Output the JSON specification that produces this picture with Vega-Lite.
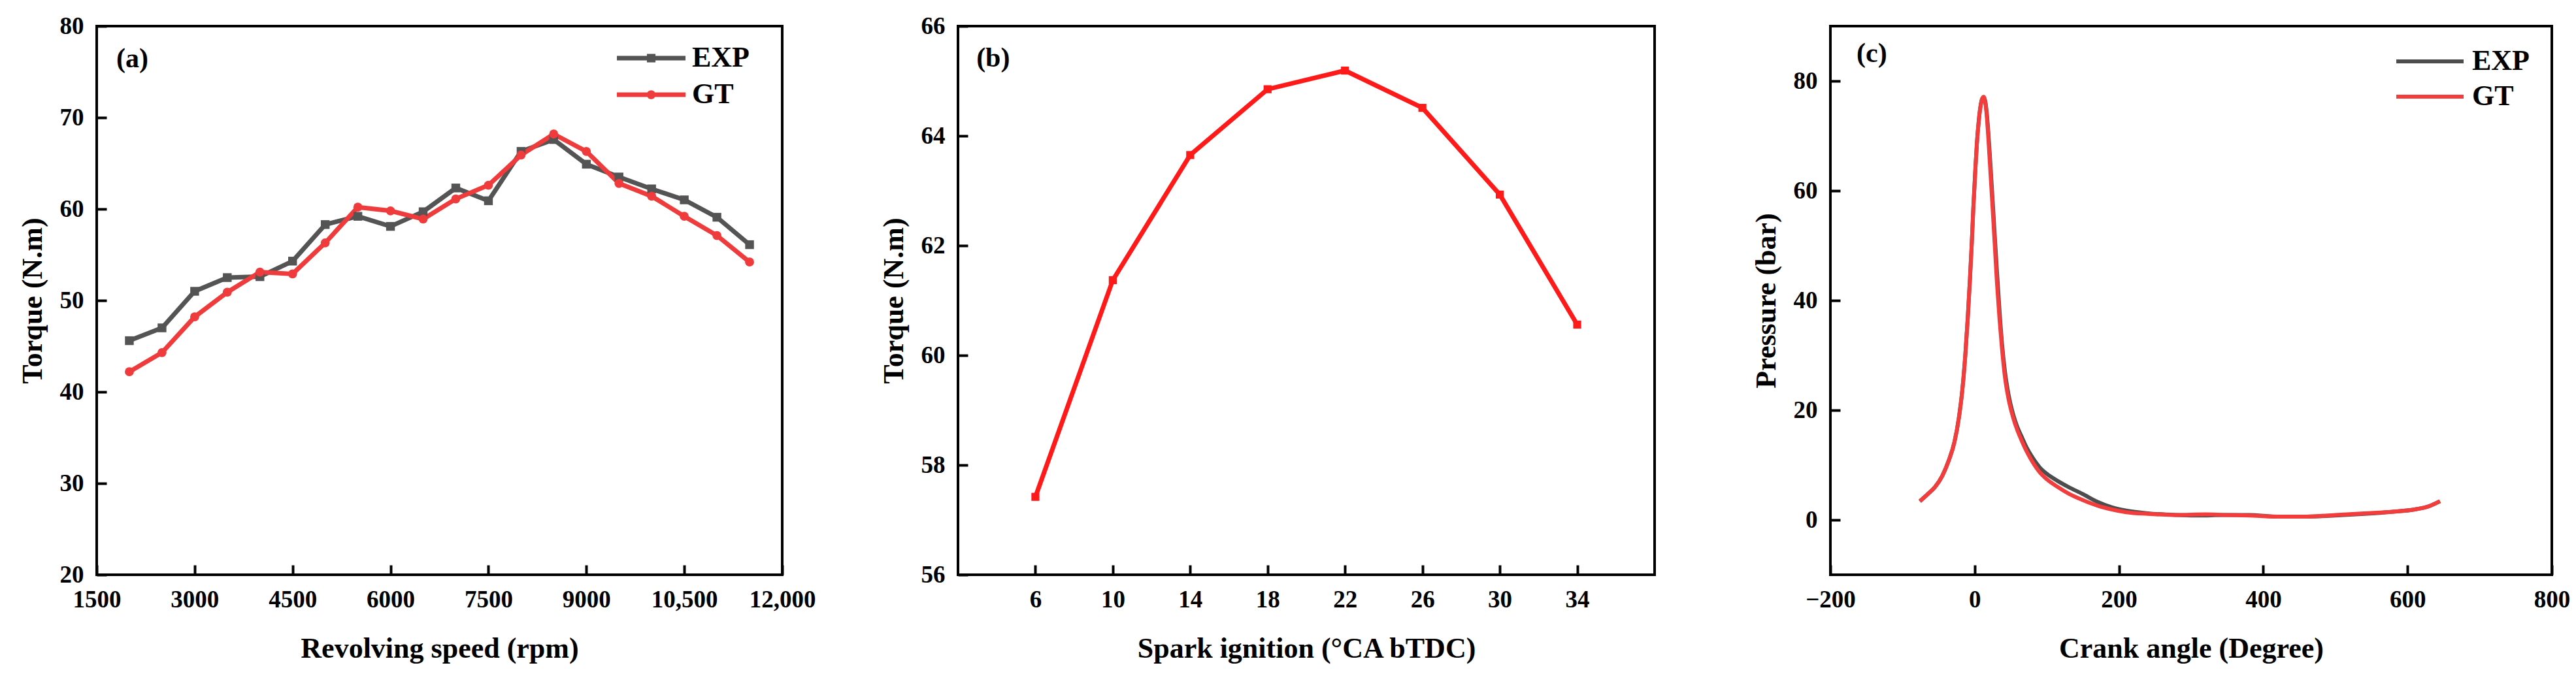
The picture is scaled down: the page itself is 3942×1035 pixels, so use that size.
{
  "$schema": "https://vega.github.io/schema/vega-lite/v6.json",
  "padding": {"left": 26, "top": 19, "right": 10, "bottom": 10},
  "bounds": "flush",
  "spacing": 269,
  "datasets": {
    "torque": [
      {"rpm": 2000, "torque": 45.6, "series": "EXP"},
      {"rpm": 2500, "torque": 47.0, "series": "EXP"},
      {"rpm": 3000, "torque": 51.0, "series": "EXP"},
      {"rpm": 3500, "torque": 52.5, "series": "EXP"},
      {"rpm": 4000, "torque": 52.6, "series": "EXP"},
      {"rpm": 4500, "torque": 54.3, "series": "EXP"},
      {"rpm": 5000, "torque": 58.3, "series": "EXP"},
      {"rpm": 5500, "torque": 59.2, "series": "EXP"},
      {"rpm": 6000, "torque": 58.1, "series": "EXP"},
      {"rpm": 6500, "torque": 59.7, "series": "EXP"},
      {"rpm": 7000, "torque": 62.3, "series": "EXP"},
      {"rpm": 7500, "torque": 60.9, "series": "EXP"},
      {"rpm": 8000, "torque": 66.3, "series": "EXP"},
      {"rpm": 8500, "torque": 67.6, "series": "EXP"},
      {"rpm": 9000, "torque": 64.9, "series": "EXP"},
      {"rpm": 9500, "torque": 63.5, "series": "EXP"},
      {"rpm": 10000, "torque": 62.2, "series": "EXP"},
      {"rpm": 10500, "torque": 61.0, "series": "EXP"},
      {"rpm": 11000, "torque": 59.1, "series": "EXP"},
      {"rpm": 11500, "torque": 56.1, "series": "EXP"},
      {"rpm": 2000, "torque": 42.2, "series": "GT"},
      {"rpm": 2500, "torque": 44.3, "series": "GT"},
      {"rpm": 3000, "torque": 48.2, "series": "GT"},
      {"rpm": 3500, "torque": 50.9, "series": "GT"},
      {"rpm": 4000, "torque": 53.1, "series": "GT"},
      {"rpm": 4500, "torque": 52.9, "series": "GT"},
      {"rpm": 5000, "torque": 56.3, "series": "GT"},
      {"rpm": 5500, "torque": 60.2, "series": "GT"},
      {"rpm": 6000, "torque": 59.8, "series": "GT"},
      {"rpm": 6500, "torque": 58.9, "series": "GT"},
      {"rpm": 7000, "torque": 61.1, "series": "GT"},
      {"rpm": 7500, "torque": 62.6, "series": "GT"},
      {"rpm": 8000, "torque": 65.9, "series": "GT"},
      {"rpm": 8500, "torque": 68.2, "series": "GT"},
      {"rpm": 9000, "torque": 66.3, "series": "GT"},
      {"rpm": 9500, "torque": 62.8, "series": "GT"},
      {"rpm": 10000, "torque": 61.4, "series": "GT"},
      {"rpm": 10500, "torque": 59.2, "series": "GT"},
      {"rpm": 11000, "torque": 57.1, "series": "GT"},
      {"rpm": 11500, "torque": 54.2, "series": "GT"}
    ],
    "spark": [
      {"si": 6, "torque": 57.42},
      {"si": 10, "torque": 61.37},
      {"si": 14, "torque": 63.65},
      {"si": 18, "torque": 64.85},
      {"si": 22, "torque": 65.19},
      {"si": 26, "torque": 64.51},
      {"si": 30, "torque": 62.93},
      {"si": 34, "torque": 60.56}
    ],
    "pressure": [
      {"angle": -76, "p": 3.4, "series": "EXP"},
      {"angle": -65, "p": 4.7, "series": "EXP"},
      {"angle": -55, "p": 6.0, "series": "EXP"},
      {"angle": -45, "p": 8.0, "series": "EXP"},
      {"angle": -36, "p": 10.8, "series": "EXP"},
      {"angle": -28, "p": 14.2, "series": "EXP"},
      {"angle": -22, "p": 18.5, "series": "EXP"},
      {"angle": -17, "p": 23.8, "series": "EXP"},
      {"angle": -13, "p": 30, "series": "EXP"},
      {"angle": -9.5, "p": 37, "series": "EXP"},
      {"angle": -6.5, "p": 44, "series": "EXP"},
      {"angle": -4, "p": 50.5, "series": "EXP"},
      {"angle": -1.8, "p": 57, "series": "EXP"},
      {"angle": 1, "p": 64, "series": "EXP"},
      {"angle": 3, "p": 68.5, "series": "EXP"},
      {"angle": 5.5, "p": 72.5, "series": "EXP"},
      {"angle": 8, "p": 75.3, "series": "EXP"},
      {"angle": 10.5, "p": 76.8, "series": "EXP"},
      {"angle": 12.5, "p": 77.0, "series": "EXP"},
      {"angle": 14.5, "p": 76.4, "series": "EXP"},
      {"angle": 16.5, "p": 74.5, "series": "EXP"},
      {"angle": 19, "p": 70.5, "series": "EXP"},
      {"angle": 22, "p": 64.5, "series": "EXP"},
      {"angle": 25, "p": 58, "series": "EXP"},
      {"angle": 28, "p": 51.5, "series": "EXP"},
      {"angle": 31, "p": 45, "series": "EXP"},
      {"angle": 34.5, "p": 38, "series": "EXP"},
      {"angle": 38, "p": 32, "series": "EXP"},
      {"angle": 42, "p": 27, "series": "EXP"},
      {"angle": 47, "p": 22.8, "series": "EXP"},
      {"angle": 53, "p": 19.4, "series": "EXP"},
      {"angle": 59, "p": 17, "series": "EXP"},
      {"angle": 65, "p": 15.2, "series": "EXP"},
      {"angle": 72, "p": 13.2, "series": "EXP"},
      {"angle": 80, "p": 11.4, "series": "EXP"},
      {"angle": 90, "p": 9.6, "series": "EXP"},
      {"angle": 100, "p": 8.4, "series": "EXP"},
      {"angle": 115, "p": 7.1, "series": "EXP"},
      {"angle": 130, "p": 6.0, "series": "EXP"},
      {"angle": 150, "p": 4.7, "series": "EXP"},
      {"angle": 170, "p": 3.3, "series": "EXP"},
      {"angle": 190, "p": 2.3, "series": "EXP"},
      {"angle": 210, "p": 1.7, "series": "EXP"},
      {"angle": 240, "p": 1.2, "series": "EXP"},
      {"angle": 280, "p": 0.9, "series": "EXP"},
      {"angle": 320, "p": 0.8, "series": "EXP"},
      {"angle": 345, "p": 0.9, "series": "EXP"},
      {"angle": 380, "p": 0.9, "series": "EXP"},
      {"angle": 420, "p": 0.6, "series": "EXP"},
      {"angle": 460, "p": 0.6, "series": "EXP"},
      {"angle": 500, "p": 0.8, "series": "EXP"},
      {"angle": 540, "p": 1.1, "series": "EXP"},
      {"angle": 580, "p": 1.5, "series": "EXP"},
      {"angle": 610, "p": 1.9, "series": "EXP"},
      {"angle": 630, "p": 2.5, "series": "EXP"},
      {"angle": 645, "p": 3.4, "series": "EXP"},
      {"angle": -76, "p": 3.4, "series": "GT"},
      {"angle": -65, "p": 4.7, "series": "GT"},
      {"angle": -55, "p": 6.0, "series": "GT"},
      {"angle": -45, "p": 8.0, "series": "GT"},
      {"angle": -36, "p": 10.8, "series": "GT"},
      {"angle": -28, "p": 14.2, "series": "GT"},
      {"angle": -22, "p": 18.5, "series": "GT"},
      {"angle": -17, "p": 23.8, "series": "GT"},
      {"angle": -13, "p": 30, "series": "GT"},
      {"angle": -9.5, "p": 37, "series": "GT"},
      {"angle": -6.5, "p": 44, "series": "GT"},
      {"angle": -4, "p": 50.5, "series": "GT"},
      {"angle": -1.8, "p": 57, "series": "GT"},
      {"angle": 1, "p": 64, "series": "GT"},
      {"angle": 3, "p": 68.5, "series": "GT"},
      {"angle": 5.5, "p": 72.5, "series": "GT"},
      {"angle": 8, "p": 75.3, "series": "GT"},
      {"angle": 10.5, "p": 76.8, "series": "GT"},
      {"angle": 12.5, "p": 77.1, "series": "GT"},
      {"angle": 14.5, "p": 76.2, "series": "GT"},
      {"angle": 16.5, "p": 74, "series": "GT"},
      {"angle": 19, "p": 69.5, "series": "GT"},
      {"angle": 22, "p": 63, "series": "GT"},
      {"angle": 25, "p": 56.5, "series": "GT"},
      {"angle": 28, "p": 49.8, "series": "GT"},
      {"angle": 31, "p": 43, "series": "GT"},
      {"angle": 34.5, "p": 36.5, "series": "GT"},
      {"angle": 38, "p": 31, "series": "GT"},
      {"angle": 42, "p": 26, "series": "GT"},
      {"angle": 47, "p": 22, "series": "GT"},
      {"angle": 53, "p": 18.8, "series": "GT"},
      {"angle": 59, "p": 16.4, "series": "GT"},
      {"angle": 65, "p": 14.5, "series": "GT"},
      {"angle": 72, "p": 12.5, "series": "GT"},
      {"angle": 80, "p": 10.6, "series": "GT"},
      {"angle": 90, "p": 8.7, "series": "GT"},
      {"angle": 100, "p": 7.4, "series": "GT"},
      {"angle": 115, "p": 6.0, "series": "GT"},
      {"angle": 130, "p": 4.8, "series": "GT"},
      {"angle": 150, "p": 3.6, "series": "GT"},
      {"angle": 170, "p": 2.6, "series": "GT"},
      {"angle": 190, "p": 1.9, "series": "GT"},
      {"angle": 210, "p": 1.4, "series": "GT"},
      {"angle": 240, "p": 1.1, "series": "GT"},
      {"angle": 280, "p": 0.9, "series": "GT"},
      {"angle": 320, "p": 1.0, "series": "GT"},
      {"angle": 345, "p": 0.9, "series": "GT"},
      {"angle": 380, "p": 0.8, "series": "GT"},
      {"angle": 420, "p": 0.6, "series": "GT"},
      {"angle": 460, "p": 0.6, "series": "GT"},
      {"angle": 500, "p": 0.9, "series": "GT"},
      {"angle": 540, "p": 1.2, "series": "GT"},
      {"angle": 580, "p": 1.5, "series": "GT"},
      {"angle": 610, "p": 1.9, "series": "GT"},
      {"angle": 630, "p": 2.5, "series": "GT"},
      {"angle": 645, "p": 3.4, "series": "GT"}
    ]
  },
  "hconcat": [
    {
      "width": 1049,
      "height": 840,
      "encoding": {
        "x": {"field": "rpm", "type": "quantitative", "title": "Revolving speed (rpm)",
          "scale": {"domain": [1500, 12000], "nice": false},
          "axis": {"values": [1500, 3000, 4500, 6000, 7500, 9000, 10500, 12000],
            "labelExpr": "datum.value >= 10000 ? format(datum.value, ',') : format(datum.value, 'd')"}},
        "y": {"field": "torque", "type": "quantitative", "title": "Torque (N.m)",
          "scale": {"domain": [20, 80], "nice": false},
          "axis": {"values": [20, 30, 40, 50, 60, 70, 80]}}
      },
      "layer": [
        {
          "data": {"name": "torque"},
          "transform": [{"filter": "datum.series === 'EXP'"}],
          "mark": {"type": "line", "strokeWidth": 7, "color": "#545454"}
        },
        {
          "data": {"name": "torque"},
          "transform": [{"filter": "datum.series === 'GT'"}],
          "mark": {"type": "line", "strokeWidth": 7, "color": "#ef3b3b"}
        },
        {
          "data": {"name": "torque"},
          "transform": [{"filter": "datum.series === 'EXP'"}],
          "mark": {"type": "point", "shape": "square", "filled": true, "size": 180, "opacity": 1, "color": "#545454"}
        },
        {
          "data": {"name": "torque"},
          "transform": [{"filter": "datum.series === 'GT'"}],
          "mark": {"type": "point", "shape": "circle", "filled": true, "size": 190, "opacity": 1, "color": "#ef3b3b"}
        },
        {
          "data": {"name": "torque"},
          "mark": {"type": "point", "filled": true, "opacity": 0},
          "encoding": {
            "color": {"field": "series", "type": "nominal",
              "scale": {"domain": ["EXP", "GT"], "range": ["#545454", "#ef3b3b"]},
              "legend": {"orient": "none", "legendX": 796, "legendY": 24, "title": null,
                "symbolSize": 11025, "clipHeight": 50, "rowPadding": 6,
                "symbolOpacity": 1, "symbolStrokeWidth": 0}},
            "shape": {"field": "series", "type": "nominal",
              "scale": {"domain": ["EXP", "GT"], "range": [
                "M-1,-0.065H1V0.065H-1ZM-0.125,-0.125H0.125V0.125H-0.125Z",
                "M-1,-0.065H1V0.065H-1ZM-0.13,0A0.13,0.13,0,1,1,0.13,0A0.13,0.13,0,1,1,-0.13,0Z"]},
              "legend": {"orient": "none", "legendX": 796, "legendY": 24, "title": null,
                "symbolSize": 11025, "clipHeight": 50, "rowPadding": 6,
                "symbolOpacity": 1, "symbolStrokeWidth": 0}}
          }
        },
        {
          "data": {"name": "torque"},
          "transform": [{"filter": "datum.series === 'EXP' && datum.rpm === 2000"}],
          "mark": {"type": "text", "text": "(a)", "align": "left", "baseline": "middle", "fontSize": 42, "fontWeight": "bold", "font": "Liberation Serif", "color": "black"},
          "encoding": {"x": {"datum": 1800}, "y": {"datum": 76.4}}
        }
      ]
    },
    {
      "width": 1066,
      "height": 840,
      "data": {"name": "spark"},
      "encoding": {
        "x": {"field": "si", "type": "quantitative", "title": "Spark ignition (°CA bTDC)",
          "scale": {"domain": [2, 38], "nice": false},
          "axis": {"values": [6, 10, 14, 18, 22, 26, 30, 34]}},
        "y": {"field": "torque", "type": "quantitative", "title": "Torque (N.m)",
          "scale": {"domain": [56, 66], "nice": false},
          "axis": {"values": [56, 58, 60, 62, 64, 66]}}
      },
      "layer": [
        {"mark": {"type": "line", "strokeWidth": 7, "color": "#ff1a1a"}},
        {"mark": {"type": "point", "shape": "square", "filled": true, "size": 150, "opacity": 1, "color": "#ff1a1a"}},
        {
          "transform": [{"filter": "datum.si === 6"}],
          "mark": {"type": "text", "align": "left", "baseline": "middle", "fontSize": 42, "fontWeight": "bold", "font": "Liberation Serif", "color": "black"},
          "encoding": {"x": {"datum": 2.95, "type": "quantitative"}, "y": {"datum": 65.42, "type": "quantitative"}, "text": {"value": "(b)"}}
        }
      ]
    },
    {
      "width": 1104,
      "height": 840,
      "encoding": {
        "x": {"field": "angle", "type": "quantitative", "title": "Crank angle (Degree)",
          "scale": {"domain": [-200, 800], "nice": false},
          "axis": {"values": [-200, 0, 200, 400, 600, 800]}},
        "y": {"field": "p", "type": "quantitative", "title": "Pressure (bar)",
          "scale": {"domain": [-10, 90], "nice": false},
          "axis": {"values": [0, 20, 40, 60, 80]}}
      },
      "layer": [
        {
          "data": {"name": "pressure"},
          "mark": {"type": "line", "strokeWidth": 6, "interpolate": "monotone"},
          "encoding": {
            "color": {"field": "series", "type": "nominal",
              "scale": {"domain": ["EXP", "GT"], "range": ["#4d4d4d", "#f33d3d"]},
              "legend": {"orient": "none", "legendX": 863, "legendY": 29, "title": null,
                "symbolType": "stroke", "symbolSize": 10609, "symbolStrokeWidth": 6,
                "clipHeight": 50, "rowPadding": 4, "symbolOpacity": 1}}
          }
        },
        {
          "data": {"name": "pressure"},
          "transform": [{"filter": "datum.series === 'EXP' && datum.angle === -76"}],
          "mark": {"type": "text", "align": "left", "baseline": "middle", "fontSize": 42, "fontWeight": "bold", "font": "Liberation Serif", "color": "black"},
          "encoding": {"x": {"datum": -163.7, "type": "quantitative"}, "y": {"datum": 85.0, "type": "quantitative"}, "text": {"value": "(c)"}}
        }
      ]
    }
  ],
  "resolve": {"scale": {"x": "independent", "y": "independent", "color": "independent", "shape": "independent"}},
  "config": {
    "font": "Liberation Serif",
    "view": {"stroke": "black", "strokeWidth": 4},
    "axis": {
      "domain": false, "grid": false, "ticks": true,
      "tickColor": "black", "tickWidth": 4, "tickSize": -15,
      "labelPadding": 35, "labelFlush": false, "labelOverlap": false,
      "labelFont": "Liberation Serif", "labelFontSize": 37, "labelFontWeight": "bold", "labelColor": "black",
      "titleFont": "Liberation Serif", "titleFontSize": 44, "titleFontWeight": "bold", "titleColor": "black",
      "titlePadding": 19
    },
    "axisX": {"titlePadding": 35},
    "legend": {
      "padding": 0, "labelOffset": 10,
      "labelFont": "Liberation Serif", "labelFontSize": 44, "labelFontWeight": "bold", "labelColor": "black"
    }
  }
}
